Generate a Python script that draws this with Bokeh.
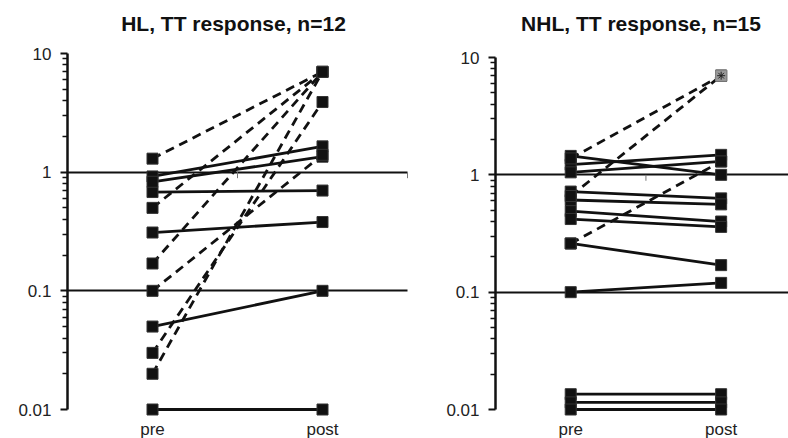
from bokeh.plotting import figure
from bokeh.layouts import row
from bokeh.models import FixedTicker, Spacer
from bokeh.core.properties import value
from bokeh.embed import file_html
from bokeh.resources import INLINE

categories = ["pre", "post"]
decade_ticks = [0.01, 0.1, 1, 10]
decade_labels = ["0.01", "0.1", "1", "10"]

# HL panel (n=12)
hl_solid_pre = [0.01, 0.05, 0.31, 0.68, 0.92, 0.83]
hl_solid_post = [0.01, 0.10, 0.38, 0.70, 1.65, 1.35]
hl_dashed_pre = [1.30, 0.50, 0.17, 0.10, 0.03, 0.02]
hl_dashed_post = [7.0, 7.0, 7.0, 1.40, 3.9, 7.0]

# NHL panel (n=15)
nhl_solid_pre = [1.45, 1.22, 1.05, 0.72, 0.61, 0.49, 0.42, 0.26, 0.10, 0.0135, 0.0115, 0.01]
nhl_solid_post = [1.00, 1.48, 1.30, 0.63, 0.56, 0.40, 0.36, 0.17, 0.12, 0.0135, 0.0115, 0.01]
nhl_dashed_pre = [1.38, 0.66, 0.26]
nhl_dashed_post = [7.0, 7.0, 1.30]
nhl_flagged_post = [7.0]

FONT = "Liberation Sans"
H = 438


def make_panel(title, solid_pre, solid_post, dashed_pre, dashed_post, flagged,
               width, x_end, b_right, b_top, title_dx, title_dy):
    p = figure(width=width, height=H, x_range=(0, x_end), y_range=(0.01, 10),
               y_axis_type="log", output_backend="svg", toolbar_location=None,
               title=None, min_border_left=0, min_border_right=b_right,
               min_border_top=b_top, min_border_bottom=29, frame_align=False)
    p.outline_line_color = None
    p.background_fill_color = "white"
    p.border_fill_color = "white"

    xpos = [i + 0.5 for i in range(len(categories))]

    # y axis
    minor = [k * 10.0 ** e for e in (-2, -1, 0) for k in range(2, 10)]
    p.yaxis.ticker = FixedTicker(ticks=decade_ticks, minor_ticks=minor)
    p.yaxis.major_label_overrides = {t: l for t, l in zip(decade_ticks, decade_labels)}
    p.yaxis.axis_line_width = 2.5
    p.yaxis.axis_line_color = "#111111"
    p.yaxis.major_tick_line_width = 2
    p.yaxis.major_tick_line_color = "#111111"
    p.yaxis.major_tick_out = 7
    p.yaxis.major_tick_in = 0
    p.yaxis.minor_tick_line_width = 1.5
    p.yaxis.minor_tick_line_color = "#111111"
    p.yaxis.minor_tick_out = 5
    p.yaxis.minor_tick_in = 0
    p.yaxis.major_label_text_font = FONT
    p.yaxis.major_label_text_font_size = "17px"
    p.yaxis.major_label_text_color = "#222222"
    p.yaxis.major_label_standoff = 9
    p.xaxis.visible = False

    # grid
    p.xgrid.visible = False
    p.ygrid.ticker = FixedTicker(ticks=decade_ticks)
    p.ygrid.grid_line_color = "#111111"
    p.ygrid.grid_line_width = 2
    p.ygrid.level = "guide"

    # title and category labels as text
    p.text(x=[x_end / 2.0], y=[decade_ticks[-1]], text=[title], x_offset=title_dx,
           y_offset=title_dy, text_align="center", text_baseline="alphabetic",
           text_font=value(FONT), text_font_size="21px", text_font_style="bold",
           text_color="#111111", level="overlay")
    p.text(x=xpos, y=[decade_ticks[0]] * len(xpos), text=categories, y_offset=10,
           text_align="center", text_baseline="top", text_font=value(FONT),
           text_font_size="17px", text_color="#222222", level="overlay")

    # category separator ticks on the "1" line
    seps = [float(i) for i in range(1, len(categories) + 1)]
    p.segment(x0=seps, x1=seps, y0=[1.0] * len(seps), y1=[0.89] * len(seps),
              line_color="#777777", line_width=1, level="overlay")

    xs_s = [xpos[:] for _ in solid_pre]
    ys_s = [[a, b] for a, b in zip(solid_pre, solid_post)]
    xs_d = [xpos[:] for _ in dashed_pre]
    ys_d = [[a, b] for a, b in zip(dashed_pre, dashed_post)]

    p.multi_line(xs_d, ys_d, line_color="#111111", line_width=2.8, line_dash="9 6",
                 level="overlay")
    p.multi_line(xs_s, ys_s, line_color="#111111", line_width=2.8, level="overlay")

    all_pre = solid_pre + dashed_pre
    all_post = solid_post + dashed_post
    p.scatter([xpos[0]] * len(all_pre), all_pre, marker="square", size=11,
              fill_color="#111111", line_color="#333333", line_width=1, level="overlay")
    p.scatter([xpos[1]] * len(all_post), all_post, marker="square", size=11,
              fill_color="#111111", line_color="#333333", line_width=1, level="overlay")
    if flagged:
        p.scatter([xpos[1]] * len(flagged), flagged, marker="square", size=11,
                  fill_color="#9a9a9a", line_color="#888888", line_width=1, level="overlay")
        p.scatter([xpos[1]] * len(flagged), flagged, marker="asterisk", size=8,
                  line_color="#222222", line_width=1, level="overlay")
    return p


left = make_panel("HL, TT response, n=12", hl_solid_pre, hl_solid_post,
                  hl_dashed_pre, hl_dashed_post, [],
                  width=428, x_end=2.0, b_right=36, b_top=53, title_dx=-4, title_dy=-30)
right = make_panel("NHL, TT response, n=15", nhl_solid_pre, nhl_solid_post,
                   nhl_dashed_pre, nhl_dashed_post, nhl_flagged_post,
                   width=345, x_end=298 / 153.0, b_right=0, b_top=57, title_dx=-1, title_dy=-34)

layout = row(Spacer(width=15, height=H), left, right)
open("out.html", "w").write(file_html(layout, INLINE))
